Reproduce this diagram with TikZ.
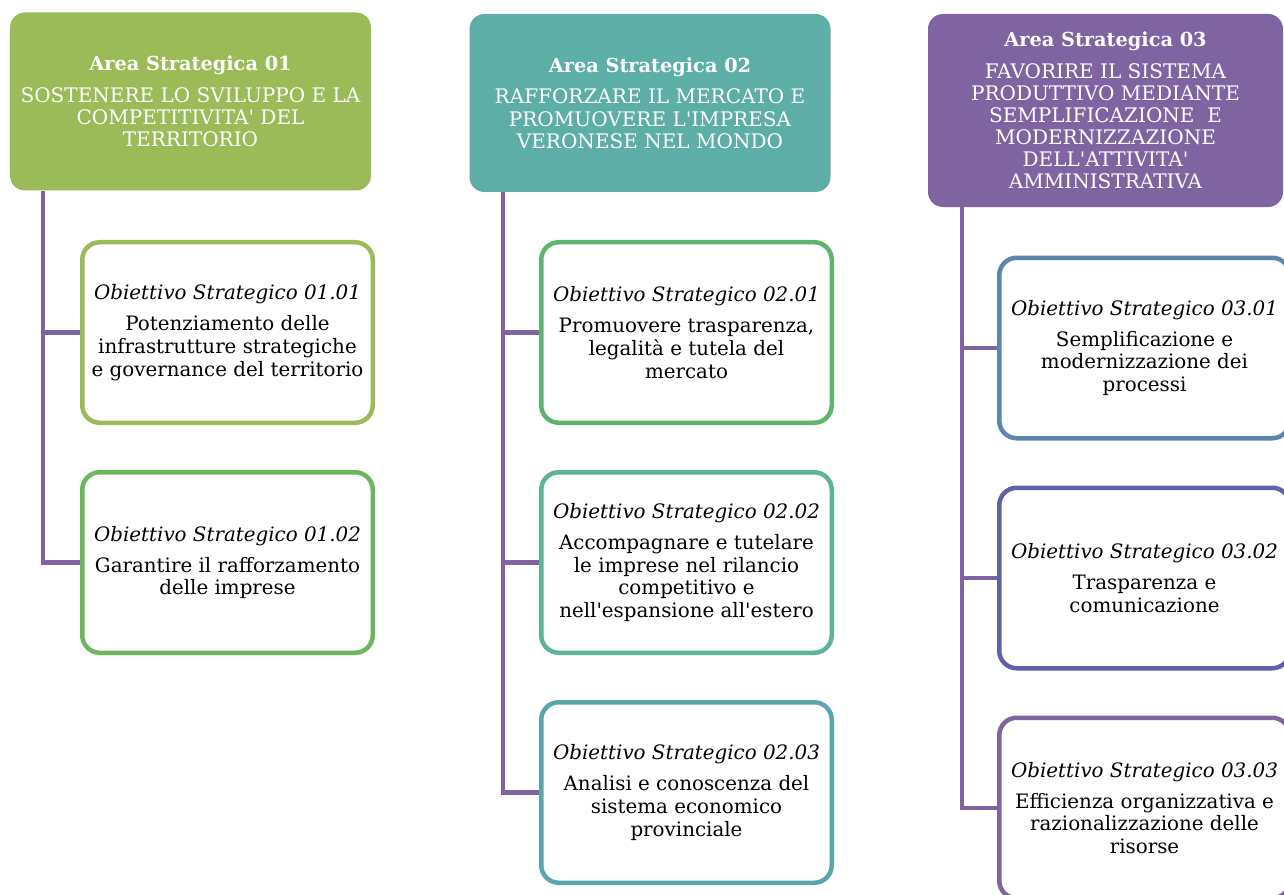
\documentclass[tikz,border=0pt]{standalone}
\usepackage{fontspec}
\setmainfont{DejaVu Serif}
\usetikzlibrary{positioning,backgrounds}

\definecolor{verdeA}{HTML}{9BBB59}
\definecolor{verdeB}{HTML}{6CB65E}
\definecolor{verdeC}{HTML}{5DB46C}
\definecolor{acqua}{HTML}{5DB39B}
\definecolor{tealA}{HTML}{5DAEA6}
\definecolor{tealB}{HTML}{5BA6AD}
\definecolor{bluA}{HTML}{5A86B0}
\definecolor{indaco}{HTML}{6061A8}
\definecolor{viola}{HTML}{8064A2}

\newcommand{\apice}{\textquotesingle}

\tikzset{
  area/.style={rounded corners=0.3cm, text=white, minimum width=7.22cm,
    minimum height=3.56cm, align=center, inner sep=0pt,
    font=\fontsize{11.4}{12.6}\selectfont},
  titolo/.style={font=\fontsize{11}{12.6}\selectfont\bfseries},
  obiettivo/.style={draw, line width=0.09cm, fill=white, rounded corners=0.35cm,
    minimum width=5.81cm, minimum height=3.61cm, align=center, inner sep=0pt,
    font=\fontsize{11.3}{13}\selectfont},
  tronco/.style={draw=viola, line width=0.085cm},
}

\begin{document}
\begin{tikzpicture}
    \useasboundingbox (0,0) rectangle (25.68,-17.9);

    % Aree strategiche
    \node[area, fill=verdeA] (a1) at (3.81,-2.03)
      {\textbf{\fontsize{11}{12.6}\selectfont Area Strategica 01}\\[5.5pt]SOSTENERE LO SVILUPPO E LA\\COMPETITIVITA\apice{} DEL\\TERRITORIO};
    \node[area, fill=tealA] (a2) at (13.0,-2.06)
      {\textbf{\fontsize{11}{12.6}\selectfont Area Strategica 02}\\[5.5pt]RAFFORZARE IL MERCATO E\\PROMUOVERE L\apice IMPRESA\\VERONESE NEL MONDO};
    \node[area, fill=viola, minimum width=7.1cm, minimum height=3.86cm] (a3) at (22.11,-2.21)
      {\textbf{\fontsize{11}{12.6}\selectfont Area Strategica 03}\\[5.5pt]FAVORIRE IL SISTEMA\\PRODUTTIVO MEDIANTE\\SEMPLIFICAZIONE\ \ E\\MODERNIZZAZIONE\\DELL\apice ATTIVITA\apice\\AMMINISTRATIVA};

    % Obiettivi strategici
    \node[obiettivo, draw=verdeA] (o11) at (4.55,-6.65)
      {\textit{Obiettivo Strategico 01.01}\\[4.6pt]Potenziamento delle\\infrastrutture strategiche\\e governance del territorio};
    \node[obiettivo, draw=verdeB] (o12) at (4.55,-11.25)
      {\textit{Obiettivo Strategico 01.02}\\[4.6pt]Garantire il rafforzamento\\delle imprese};
    \node[obiettivo, draw=verdeC] (o21) at (13.73,-6.65)
      {\textit{Obiettivo Strategico 02.01}\\[4.6pt]Promuovere trasparenza,\\legalità e tutela del\\mercato};
    \node[obiettivo, draw=acqua] (o22) at (13.73,-11.25)
      {\textit{Obiettivo Strategico 02.02}\\[4.6pt]Accompagnare e tutelare\\le imprese nel rilancio\\competitivo e\\nell\apice espansione all\apice estero};
    \node[obiettivo, draw=tealB] (o23) at (13.73,-15.85)
      {\textit{Obiettivo Strategico 02.03}\\[4.6pt]Analisi e conoscenza del\\sistema economico\\provinciale};
    \node[obiettivo, draw=bluA] (o31) at (22.89,-6.96)
      {\textit{Obiettivo Strategico 03.01}\\[4.6pt]Semplificazione e\\modernizzazione dei\\processi};
    \node[obiettivo, draw=indaco] (o32) at (22.89,-11.56)
      {\textit{Obiettivo Strategico 03.02}\\[4.6pt]Trasparenza e\\comunicazione};
    \node[obiettivo, draw=viola] (o33) at (22.89,-16.16)
      {\textit{Obiettivo Strategico 03.03}\\[4.6pt]Efficienza organizzativa e\\razionalizzazione delle\\risorse};

    % Tronchi e rami
    \coordinate (t1) at ([xshift=0.66cm]a1.south west);
    \coordinate (t2) at ([xshift=0.68cm]a2.south west);
    \coordinate (t3) at ([xshift=0.68cm]a3.south west);
    \begin{scope}[on background layer]
      \draw[tronco] (t1) |- (o11.west);
      \draw[tronco] (t1) |- (o12.west);
      \foreach \o in {o21,o22,o23}
        \draw[tronco] (t2) |- (\o.west);
      \foreach \o in {o31,o32,o33}
        \draw[tronco] (t3) |- (\o.west);
    \end{scope}
\end{tikzpicture}
\end{document}
